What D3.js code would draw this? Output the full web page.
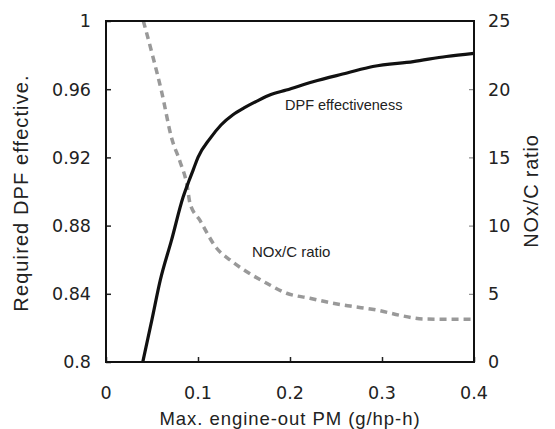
<!DOCTYPE html>
<html>
<head>
<meta charset="utf-8">
<script src="https://cdn.jsdelivr.net/npm/d3@7"></script>
<style>
html,body{margin:0;padding:0;background:#fff;}
svg{display:block;}
</style>
</head>
<body>
<svg id="chart" width="555" height="429"></svg>
<script>
// ---- data ----
const pmValuesDPF = [0.040,0.050,0.059,0.071,0.084,0.090,0.095,0.100,0.113,0.125,0.138,0.150,0.164,0.180,0.196,0.225,0.262,0.290,0.334,0.370,0.400];
const dpfEffectiveness = [0.800,0.825,0.848,0.871,0.897,0.906,0.913,0.920,0.931,0.939,0.945,0.949,0.953,0.957,0.9595,0.9644,0.9695,0.9733,0.9762,0.9792,0.981];
const pmValuesNOx = [0.0406,0.0514,0.0605,0.0714,0.0804,0.0884,0.0913,0.102,0.1203,0.1348,0.153,0.1747,0.1964,0.2217,0.2435,0.2652,0.2942,0.3232,0.345,0.3739,0.3975];
const noxCRatio = [25,22.27,19.8,16.4,14.7,12.85,11.63,10.4,8.34,7.48,6.62,5.77,5.04,4.67,4.35,4.1,3.81,3.37,3.15,3.13,3.13];
const xTicks = [0,0.1,0.2,0.3,0.4];
const xTickLabels = ["0","0.1","0.2","0.3","0.4"];
const yLeftTicks = [0.8,0.84,0.88,0.92,0.96,1];
const yLeftTickLabels = ["0.8","0.84","0.88","0.92","0.96","1"];
const yRightTicks = [0,5,10,15,20,25];
const yRightTickLabels = ["0","5","10","15","20","25"];

// ---- layout ----
const L = 106, R = 474, T = 21, B = 362;
const svg = d3.select("#chart");
const x = d3.scaleLinear().domain([0,0.4]).range([L,R]);
const yL = d3.scaleLinear().domain([0.8,1]).range([B,T]);
const yR = d3.scaleLinear().domain([0,25]).range([B,T]);

const tickFont = "DejaVu Sans";
const titleFont = "Liberation Sans, Arial, sans-serif";

// lines
const dpfData = pmValuesDPF.map((p,i)=>({x:p,y:dpfEffectiveness[i]}));
const noxData = pmValuesNOx.map((p,i)=>({x:p,y:noxCRatio[i]}));

svg.append("path")
  .datum(noxData)
  .attr("fill","none")
  .attr("stroke","#999")
  .attr("stroke-width",3.5)
  .attr("stroke-dasharray","7,5")
  .attr("d", d3.line().x(d=>x(d.x)).y(d=>yR(d.y)).curve(d3.curveMonotoneX));

svg.append("path")
  .datum(dpfData)
  .attr("fill","none")
  .attr("stroke","#111")
  .attr("stroke-width",3.2)
  .attr("d", d3.line().x(d=>x(d.x)).y(d=>yL(d.y)).curve(d3.curveMonotoneX));

// axes with inward ticks
const gx = svg.append("g").attr("transform",`translate(0,${B})`)
  .call(d3.axisTop(x).tickValues(xTicks).tickSize(5).tickFormat(""));
const gl = svg.append("g").attr("transform",`translate(${L},0)`)
  .call(d3.axisRight(yL).tickValues(yLeftTicks).tickSize(5).tickFormat(""));
const gr = svg.append("g").attr("transform",`translate(${R},0)`)
  .call(d3.axisLeft(yR).tickValues(yRightTicks).tickSize(5).tickFormat(""));
[gx,gl,gr].forEach(g=>{
  g.select(".domain").remove();
  g.selectAll(".tick line").attr("stroke","#222").attr("stroke-width",1.5);
});
gr.selectAll(".tick line").attr("stroke","#777").attr("stroke-width",1);

// frame
svg.append("rect").attr("x",L).attr("y",T).attr("width",R-L).attr("height",B-T)
  .attr("fill","none").attr("stroke","#111").attr("stroke-width",2);

// tick labels
svg.append("g").selectAll("text").data(xTicks).join("text")
  .attr("x",d=>x(d)).attr("y",399)
  .attr("text-anchor","middle")
  .attr("font-family",tickFont).attr("font-size",17.5).attr("fill","#222")
  .text((d,i)=>xTickLabels[i]);
svg.append("g").selectAll("text").data(yLeftTicks).join("text")
  .attr("x",91).attr("y",d=>yL(d)).attr("dy","0.36em")
  .attr("text-anchor","end")
  .attr("font-family",tickFont).attr("font-size",17.5).attr("fill","#222")
  .text((d,i)=>yLeftTickLabels[i]);
svg.append("g").selectAll("text").data(yRightTicks).join("text")
  .attr("x",488).attr("y",d=>yR(d)).attr("dy","0.36em")
  .attr("text-anchor","start")
  .attr("font-family",tickFont).attr("font-size",17.5).attr("fill","#222")
  .text((d,i)=>yRightTickLabels[i]);

// axis titles
svg.append("text").attr("x",290).attr("y",425).attr("text-anchor","middle")
  .attr("font-family",titleFont).attr("font-size",18.5).attr("letter-spacing","0.95px").attr("fill","#222")
  .text("Max. engine-out PM (g/hp-h)");
svg.append("text").attr("transform","translate(28,193) rotate(-90)").attr("text-anchor","middle")
  .attr("font-family",titleFont).attr("font-size",20).attr("letter-spacing","1.1px").attr("fill","#222")
  .text("Required DPF effective.");
svg.append("text").attr("transform","translate(538,191) rotate(-90)").attr("text-anchor","middle")
  .attr("font-family",titleFont).attr("font-size",20).attr("letter-spacing","0.8px").attr("fill","#222")
  .text("NOx/C ratio");

// annotations
svg.append("text").attr("x",285).attr("y",110)
  .attr("font-family",titleFont).attr("font-size",14.5).attr("fill","#222")
  .text("DPF effectiveness");
svg.append("text").attr("x",252).attr("y",257)
  .attr("font-family",titleFont).attr("font-size",15).attr("fill","#222")
  .text("NOx/C ratio");
</script>
</body>
</html>
